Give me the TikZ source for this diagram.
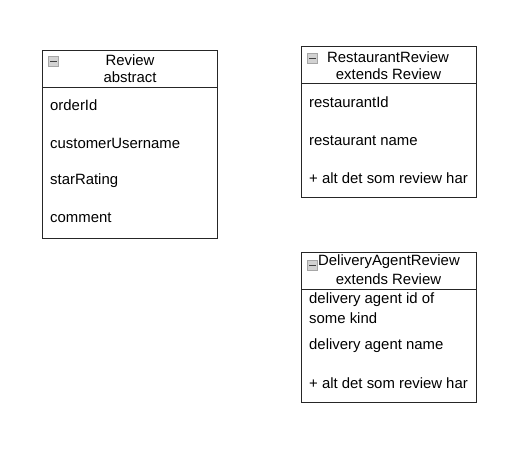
\documentclass[tikz,border=0pt]{standalone}
\usepackage{fontspec}
\setmainfont{Liberation Sans}
\begin{document}
\begin{tikzpicture}[x=1pt,y=-1pt,
  box/.style={draw=black!85, line width=1pt, anchor=north west, inner sep=0pt},
  attr/.style={anchor=west, inner sep=0pt, font=\fontsize{14.9}{17}\selectfont},
  head/.style={anchor=center, inner sep=0pt, align=center, font=\fontsize{14.9}{17}\selectfont},
  icon/.style={draw=gray!70, fill=gray!35, line width=0.6pt, anchor=north west, minimum width=10pt, minimum height=10pt, inner sep=0pt}]
\useasboundingbox (0,0) rectangle (526,462);
% Review
\node[box, minimum width=175pt, minimum height=188pt] (rv) at (42,50) {};
\coordinate (rvdl) at (42,88); \coordinate (rvdr) at (217,88);
\draw[line width=1pt, black!85] (rvdl) -- (rvdr);
\node[icon] (rvi) at (48,56) {};
\draw[line width=1.3pt, black!75] ([xshift=2pt]rvi.west) -- ([xshift=-2pt]rvi.east);
\node[head] (rvh1) at (130,60) {Review};
\node[head] (rvh2) at (130,77) {abstract};
\node[attr] (rva1) at (50,105) {orderId};
\node[attr] (rva2) at (50,143) {customerUsername};
\node[attr] (rva3) at (50,181) {starRating};
\node[attr] (rva4) at (50,218) {comment};
% RestaurantReview
\node[box, minimum width=175pt, minimum height=151pt] (rr) at (301,46) {};
\coordinate (rrdl) at (301,84); \coordinate (rrdr) at (476,84);
\draw[line width=1pt, black!85] (rrdl) -- (rrdr);
\node[icon] (rri) at (307,53) {};
\draw[line width=1.3pt, black!75] ([xshift=2pt]rri.west) -- ([xshift=-2pt]rri.east);
\node[head] (rrh1) at (388,57) {RestaurantReview};
\node[head] (rrh2) at (388.5,74) {extends Review};
\node[attr] (rra1) at (309,102) {restaurantId};
\node[attr] (rra2) at (309,141) {restaurant name};
\node[attr] (rra3) at (309,178) {+ alt det som review har};
% DeliveryAgentReview
\node[box, minimum width=175pt, minimum height=150pt] (dr) at (301,252) {};
\coordinate (drdl) at (301,289); \coordinate (drdr) at (476,289);
\draw[line width=1pt, black!85] (drdl) -- (drdr);
\node[icon] (dri) at (307,260) {};
\draw[line width=1.3pt, black!75] ([xshift=2pt]dri.west) -- ([xshift=-2pt]dri.east);
\node[head] (drh1) at (389,262) {DeliveryAgentReview};
\node[head] (drh2) at (388.5,279) {extends Review};
\node[attr] (dra1) at (309,300) {delivery agent id of};
\node[attr] (dra2) at (309,318) {some kind};
\node[attr] (dra3) at (309,346) {delivery agent name};
\node[attr] (dra4) at (309,383) {+ alt det som review har};
\end{tikzpicture}
\end{document}
